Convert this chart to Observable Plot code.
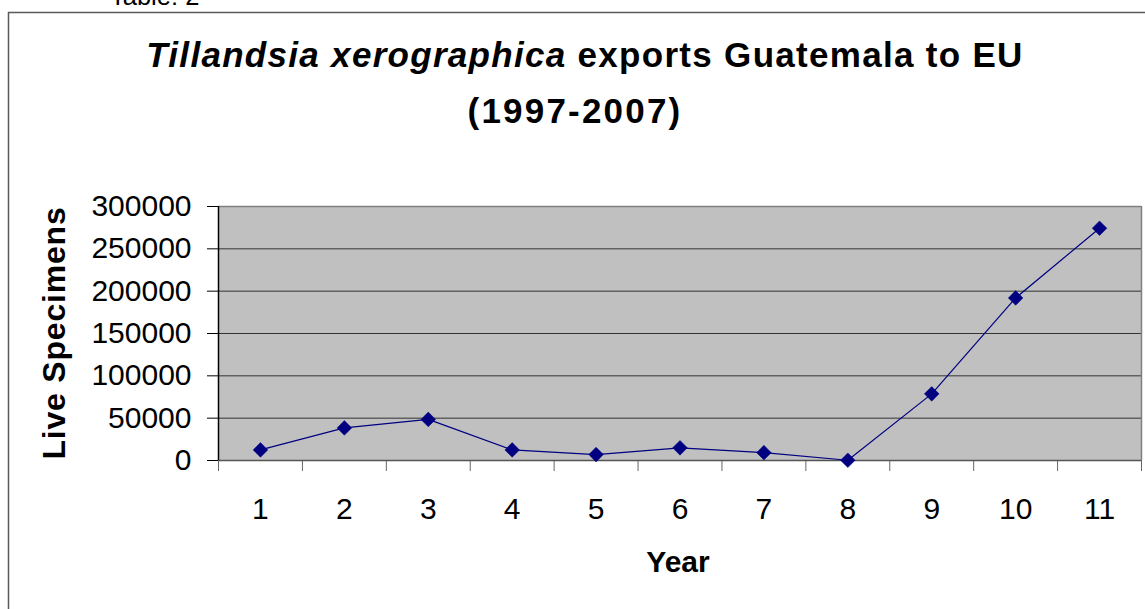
<!DOCTYPE html>
<html>
<head>
<meta charset="utf-8">
<script src="https://cdn.jsdelivr.net/npm/d3@7"></script>
<script src="https://cdn.jsdelivr.net/npm/@observablehq/plot@0.6"></script>
<style>
  html, body { margin: 0; padding: 0; background: #fff; }
  #wrap { position: relative; width: 1145px; height: 609px; overflow: hidden; font-family: "Liberation Sans", Arial, sans-serif; }
  #chart { position: absolute; left: 0; top: 0; }
  #overlay { position: absolute; left: 0; top: 0; pointer-events: none; }
</style>
</head>
<body>
<div id="wrap">
  <div id="chart"></div>
  <svg id="overlay" width="1145" height="609" font-family="Liberation Sans, Arial, sans-serif"></svg>
</div>
<script>
// Data
const years = [1, 2, 3, 4, 5, 6, 7, 8, 9, 10, 11];
const specimens = [12500, 38500, 48500, 12500, 7000, 15000, 9300, 300, 78700, 192000, 274300];
const yTicks = [0, 50000, 100000, 150000, 200000, 250000, 300000];
const titleItalic = "Tillandsia xerographica";
const titleRest = " exports Guatemala to EU";
const titleLine2 = "(1997-2007)";
const yLabel = "Live Specimens";
const xLabel = "Year";
const noteText = "Table: 2";

const data = years.map((y, i) => ({year: y, value: specimens[i]}));
const boundaries = [...years.map(y => y - 0.5), years[years.length - 1] + 0.5];
const gridTicks = yTicks.filter(t => t > 0);

const chart = Plot.plot({
  width: 1145,
  height: 609,
  marginLeft: 218,
  marginRight: 4,
  marginTop: 206,
  marginBottom: 149,
  style: {fontFamily: "Liberation Sans, Arial, sans-serif", fontSize: "30px", color: "#000", background: "transparent"},
  x: {domain: [0.5, 11.5]},
  y: {domain: [0, 300000]},
  marks: [
    Plot.frame({fill: "#c0c0c0", stroke: null}),
    Plot.ruleY(gridTicks.slice(0, -1), {stroke: "#333", strokeWidth: 1}),
    Plot.ruleY([300000], {stroke: "#808080", strokeWidth: 1.5}),
    Plot.ruleX([11.5], {stroke: "#808080", strokeWidth: 1.5}),
    Plot.axisY({ticks: yTicks, tickSize: 11, tickPadding: 16, tickFormat: d => String(d), label: null, fontSize: 30, stroke: "#000"}),
    Plot.axisX({ticks: years, tickSize: 0, tickPadding: 37, tickFormat: d => String(d), label: null, fontSize: 30}),
    Plot.axisX({ticks: boundaries, tickSize: 11, tickFormat: () => "", label: null, stroke: "#666"}),
    Plot.ruleY([0], {stroke: "#555", strokeWidth: 1.5}),
    Plot.ruleX([0.5], {stroke: "#000", strokeWidth: 1.5}),
    Plot.line(data, {x: "year", y: "value", stroke: "#000080", strokeWidth: 1.2}),
    Plot.dot(data, {x: "year", y: "value", symbol: "diamond2", r: 6.6, fill: "#000080", stroke: "#000080", strokeWidth: 0.5})
  ]
});
document.getElementById("chart").appendChild(chart);

// Overlay: frame border, title, axis titles
const svg = d3.select("#overlay");
svg.append("path").attr("d", "M8.5,1000 V12.5 H1200").attr("fill", "none").attr("stroke", "#5a5a5a").attr("stroke-width", 1.5);
svg.append("text").attr("x", 110).attr("y", 5).attr("font-size", 25.5).attr("fill", "#000").text(noteText);

const t1 = svg.append("text").attr("x", 585).attr("y", 67).attr("text-anchor", "middle")
  .attr("font-size", 35).attr("font-weight", "bold").attr("letter-spacing", 1.3).attr("fill", "#000");
t1.append("tspan").attr("font-style", "italic").text(titleItalic);
t1.append("tspan").text(titleRest);
svg.append("text").attr("x", 575).attr("y", 123).attr("text-anchor", "middle")
  .attr("font-size", 35).attr("font-weight", "bold").attr("letter-spacing", 2.2).attr("fill", "#000").text(titleLine2);

svg.append("text").attr("transform", "translate(65,333) rotate(-90)").attr("text-anchor", "middle")
  .attr("font-size", 32).attr("font-weight", "bold").attr("letter-spacing", 0.8).attr("fill", "#000").text(yLabel);
svg.append("text").attr("x", 678).attr("y", 572).attr("text-anchor", "middle")
  .attr("font-size", 30).attr("font-weight", "bold").attr("fill", "#000").text(xLabel);
</script>
</body>
</html>
